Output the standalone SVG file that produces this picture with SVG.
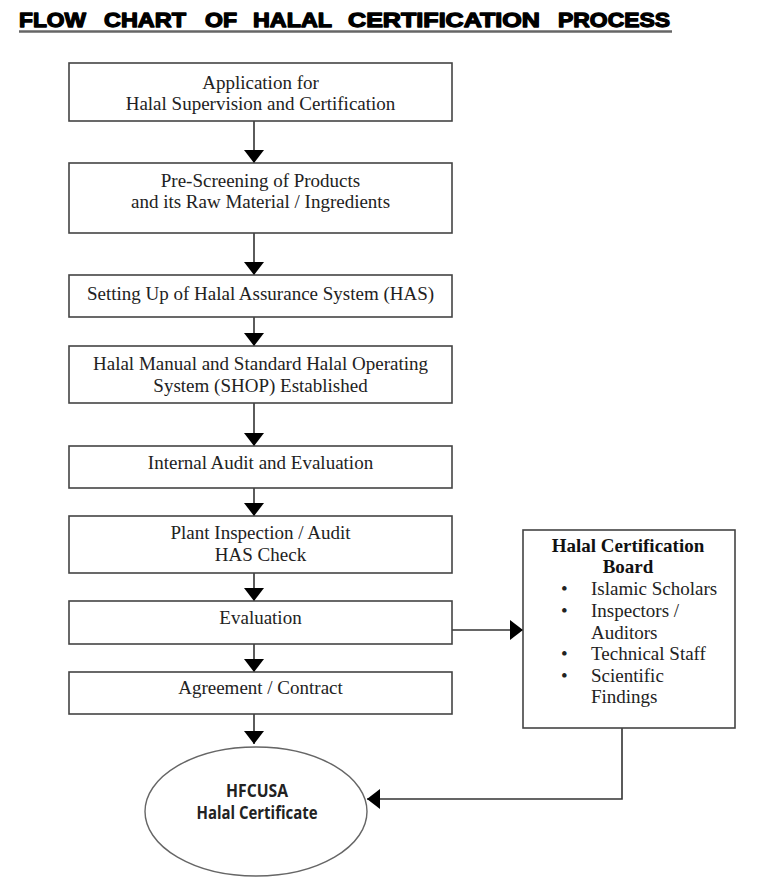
<svg xmlns="http://www.w3.org/2000/svg" width="768" height="882" viewBox="0 0 768 882">
<style>
.box{fill:#fff;stroke:#444;stroke-width:1.6}
.t{font-family:"Liberation Serif","Times New Roman",serif;font-size:19px;fill:#222;text-anchor:middle}
.tb{font-family:"Liberation Serif","Times New Roman",serif;font-size:19px;font-weight:bold;fill:#111;text-anchor:middle}
.li{font-family:"Liberation Serif","Times New Roman",serif;font-size:19px;fill:#222}
.title{font-family:"Liberation Sans",Arial,sans-serif;font-size:21px;font-weight:bold;fill:#000;stroke:#000;stroke-width:1.3;stroke-linejoin:round}
.ell{font-family:"Open Sans","Liberation Sans",sans-serif;font-size:17px;font-weight:bold;fill:#222;text-anchor:middle}
.conn{fill:none;stroke:#333;stroke-width:1.6}
</style>
<defs>
<marker id="ah" markerUnits="userSpaceOnUse" markerWidth="14" markerHeight="20" refX="13" refY="10" orient="auto" viewBox="0 0 14 20">
<path d="M0,0 L13,10 L0,20 Z" fill="#000"/>
</marker>
</defs>
<rect width="768" height="882" fill="#fff"/>
<g id="title">
<text class="title" y="27"><tspan x="19" textLength="67" lengthAdjust="spacingAndGlyphs">FLOW</tspan><tspan x="104" textLength="82" lengthAdjust="spacingAndGlyphs">CHART</tspan><tspan x="205" textLength="32" lengthAdjust="spacingAndGlyphs">OF</tspan><tspan x="253" textLength="79" lengthAdjust="spacingAndGlyphs">HALAL</tspan><tspan x="348" textLength="192" lengthAdjust="spacingAndGlyphs">CERTIFICATION</tspan><tspan x="558" textLength="112" lengthAdjust="spacingAndGlyphs">PROCESS</tspan></text>
<line x1="19" y1="31.5" x2="672" y2="31.5" stroke="#666" stroke-width="2.5"/>
</g>
<g id="connectors">
<path class="conn" d="M254,121 V163" marker-end="url(#ah)"/>
<path class="conn" d="M254,233 V275" marker-end="url(#ah)"/>
<path class="conn" d="M254,317 V346" marker-end="url(#ah)"/>
<path class="conn" d="M254,403 V446" marker-end="url(#ah)"/>
<path class="conn" d="M254,488 V516" marker-end="url(#ah)"/>
<path class="conn" d="M254,573 V601" marker-end="url(#ah)"/>
<path class="conn" d="M254,644 V672" marker-end="url(#ah)"/>
<path class="conn" d="M254,714 V744" marker-end="url(#ah)"/>
<path class="conn" d="M452,630 H523" marker-end="url(#ah)"/>
<path class="conn" d="M622,728 V799 H367" marker-end="url(#ah)"/>
</g>
<g id="n1">
<rect class="box" x="69" y="63" width="383" height="58"/>
<text class="t" x="260.5" y="89">Application for</text>
<text class="t" x="260.5" y="110">Halal Supervision and Certification</text>
</g>
<g id="n2">
<rect class="box" x="69" y="163" width="383" height="70"/>
<text class="t" x="260.5" y="187">Pre-Screening of Products</text>
<text class="t" x="260.5" y="208">and its Raw Material / Ingredients</text>
</g>
<g id="n3">
<rect class="box" x="69" y="275" width="383" height="42"/>
<text class="t" x="260.5" y="300">Setting Up of Halal Assurance System (HAS)</text>
</g>
<g id="n4">
<rect class="box" x="69" y="346" width="383" height="57"/>
<text class="t" x="260.5" y="370">Halal Manual and Standard Halal Operating</text>
<text class="t" x="260.5" y="392">System (SHOP) Established</text>
</g>
<g id="n5">
<rect class="box" x="69" y="446" width="383" height="42"/>
<text class="t" x="260.5" y="469">Internal Audit and Evaluation</text>
</g>
<g id="n6">
<rect class="box" x="69" y="516" width="383" height="57"/>
<text class="t" x="260.5" y="539">Plant Inspection / Audit</text>
<text class="t" x="260.5" y="561">HAS Check</text>
</g>
<g id="n7">
<rect class="box" x="69" y="601" width="383" height="43"/>
<text class="t" x="260.5" y="624">Evaluation</text>
</g>
<g id="n8">
<rect class="box" x="69" y="672" width="383" height="42"/>
<text class="t" x="260.5" y="694">Agreement / Contract</text>
</g>
<g id="board">
<rect class="box" x="523" y="530" width="212" height="198"/>
<text class="tb" x="628" y="552">Halal Certification</text>
<text class="tb" x="628" y="573">Board</text>
<text class="li" x="561" y="595">•</text>
<text class="li" x="591" y="595">Islamic Scholars</text>
<text class="li" x="561" y="617">•</text>
<text class="li" x="591" y="617">Inspectors /</text>
<text class="li" x="591" y="639">Auditors</text>
<text class="li" x="561" y="660">•</text>
<text class="li" x="591" y="660">Technical Staff</text>
<text class="li" x="561" y="682">•</text>
<text class="li" x="591" y="682">Scientific</text>
<text class="li" x="591" y="703">Findings</text>
</g>
<g id="certificate">
<ellipse cx="256" cy="811.5" rx="111" ry="64.5" fill="#fff" stroke="#666" stroke-width="1.4"/>
<text class="ell" x="257" y="797" textLength="62" lengthAdjust="spacingAndGlyphs">HFCUSA</text>
<text class="ell" x="257" y="819" textLength="121" lengthAdjust="spacingAndGlyphs">Halal Certificate</text>
</g>
</svg>
